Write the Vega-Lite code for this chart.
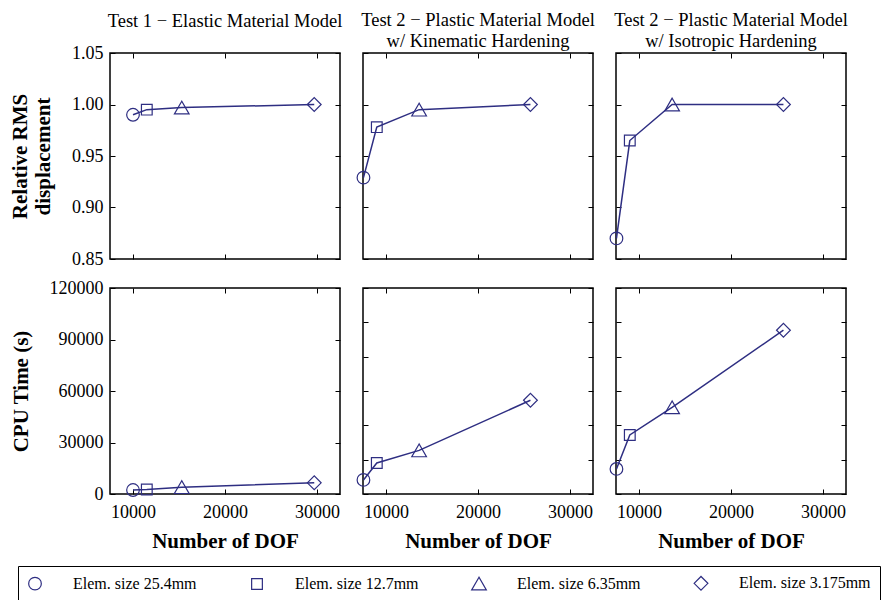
{
  "$schema": "https://vega.github.io/schema/vega-lite/v6.json",
  "background": "white",
  "padding": {"left": 8, "top": 10, "right": 5, "bottom": 5},
  "datasets": {
    "pts": [
      {"test": "t1", "metric": "rms", "dof": 10000, "value": 0.990, "size": "Elem. size 25.4mm"},
      {"test": "t1", "metric": "rms", "dof": 11500, "value": 0.995, "size": "Elem. size 12.7mm"},
      {"test": "t1", "metric": "rms", "dof": 15300, "value": 0.997, "size": "Elem. size 6.35mm"},
      {"test": "t1", "metric": "rms", "dof": 29700, "value": 1.000, "size": "Elem. size 3.175mm"},
      {"test": "t2k", "metric": "rms", "dof": 7550, "value": 0.929, "size": "Elem. size 25.4mm"},
      {"test": "t2k", "metric": "rms", "dof": 9000, "value": 0.978, "size": "Elem. size 12.7mm"},
      {"test": "t2k", "metric": "rms", "dof": 13600, "value": 0.995, "size": "Elem. size 6.35mm"},
      {"test": "t2k", "metric": "rms", "dof": 25700, "value": 1.000, "size": "Elem. size 3.175mm"},
      {"test": "t2i", "metric": "rms", "dof": 7550, "value": 0.870, "size": "Elem. size 25.4mm"},
      {"test": "t2i", "metric": "rms", "dof": 9000, "value": 0.965, "size": "Elem. size 12.7mm"},
      {"test": "t2i", "metric": "rms", "dof": 13600, "value": 1.000, "size": "Elem. size 6.35mm"},
      {"test": "t2i", "metric": "rms", "dof": 25700, "value": 1.000, "size": "Elem. size 3.175mm"},
      {"test": "t1", "metric": "cpu", "dof": 10000, "value": 2300, "size": "Elem. size 25.4mm"},
      {"test": "t1", "metric": "cpu", "dof": 11500, "value": 2600, "size": "Elem. size 12.7mm"},
      {"test": "t1", "metric": "cpu", "dof": 15300, "value": 4000, "size": "Elem. size 6.35mm"},
      {"test": "t1", "metric": "cpu", "dof": 29700, "value": 6500, "size": "Elem. size 3.175mm"},
      {"test": "t2k", "metric": "cpu", "dof": 7550, "value": 8200, "size": "Elem. size 25.4mm"},
      {"test": "t2k", "metric": "cpu", "dof": 9000, "value": 18100, "size": "Elem. size 12.7mm"},
      {"test": "t2k", "metric": "cpu", "dof": 13600, "value": 25400, "size": "Elem. size 6.35mm"},
      {"test": "t2k", "metric": "cpu", "dof": 25700, "value": 54600, "size": "Elem. size 3.175mm"},
      {"test": "t2i", "metric": "cpu", "dof": 7550, "value": 14600, "size": "Elem. size 25.4mm"},
      {"test": "t2i", "metric": "cpu", "dof": 9000, "value": 34400, "size": "Elem. size 12.7mm"},
      {"test": "t2i", "metric": "cpu", "dof": 13600, "value": 50500, "size": "Elem. size 6.35mm"},
      {"test": "t2i", "metric": "cpu", "dof": 25700, "value": 95400, "size": "Elem. size 3.175mm"}
    ]
  },
  "data": {"name": "pts"},
  "columns": 3,
  "spacing": {"row": 29, "column": 23},
  "bounds": "flush",
  "concat": [
    {
      "width": 230, "height": 206,
      "title": {"text": "Test 1 − Elastic Material Model", "offset": 14},
      "transform": [{"filter": "datum.test === 't1' && datum.metric === 'rms'"}],
      "layer": [
        {"mark": {"type": "line", "color": "#2E2E82", "strokeWidth": 1.5},
         "encoding": {
           "x": {"field": "dof", "type": "quantitative", "scale": {"domain": [7500, 32500], "nice": false}, "axis": {"values": [10000, 20000, 30000], "labels": false, "title": null}},
           "y": {"field": "value", "type": "quantitative", "scale": {"domain": [0.85, 1.05], "nice": false, "zero": false}, "axis": {"values": [0.85, 0.9, 0.95, 1.0, 1.05], "format": ".2f", "title": ["Relative RMS", "displacement"]}}
         }},
        {"mark": {"type": "point", "filled": false, "color": "#2E2E82", "strokeWidth": 1.2, "opacity": 1},
         "encoding": {
           "x": {"field": "dof", "type": "quantitative", "scale": {"domain": [7500, 32500], "nice": false}, "axis": {"orient": "top", "values": [10000, 20000, 30000], "labels": false, "title": null}},
           "y": {"field": "value", "type": "quantitative", "scale": {"domain": [0.85, 1.05], "nice": false, "zero": false}, "axis": {"orient": "right", "values": [0.85, 0.9, 0.95, 1.0, 1.05], "labels": false, "title": null}},
           "shape": {"field": "size", "type": "nominal", "scale": {"domain": ["Elem. size 25.4mm", "Elem. size 12.7mm", "Elem. size 6.35mm", "Elem. size 3.175mm"], "range": ["circle", "square", "triangle-up", "diamond"]}, "legend": {"title": null}},
           "size": {"field": "size", "type": "nominal", "scale": {"type": "ordinal", "domain": ["Elem. size 25.4mm", "Elem. size 12.7mm", "Elem. size 6.35mm", "Elem. size 3.175mm"], "range": [160, 115, 215, 190]}, "legend": {"title": null}}
         }}
      ],
      "resolve": {"axis": {"x": "independent", "y": "independent"}}
    },
    {
      "width": 230, "height": 206,
      "title": {"text": ["Test 2 − Plastic Material Model", "w/ Kinematic Hardening"], "offset": 2},
      "transform": [{"filter": "datum.test === 't2k' && datum.metric === 'rms'"}],
      "layer": [
        {"mark": {"type": "line", "color": "#2E2E82", "strokeWidth": 1.5},
         "encoding": {
           "x": {"field": "dof", "type": "quantitative", "scale": {"domain": [7500, 32500], "nice": false}, "axis": {"values": [10000, 20000, 30000], "labels": false, "title": null}},
           "y": {"field": "value", "type": "quantitative", "scale": {"domain": [0.85, 1.05], "nice": false, "zero": false}, "axis": {"values": [0.85, 0.9, 0.95, 1.0, 1.05], "labels": false, "title": null}}
         }},
        {"mark": {"type": "point", "filled": false, "color": "#2E2E82", "strokeWidth": 1.2, "opacity": 1},
         "encoding": {
           "x": {"field": "dof", "type": "quantitative", "scale": {"domain": [7500, 32500], "nice": false}, "axis": {"orient": "top", "values": [10000, 20000, 30000], "labels": false, "title": null}},
           "y": {"field": "value", "type": "quantitative", "scale": {"domain": [0.85, 1.05], "nice": false, "zero": false}, "axis": {"orient": "right", "values": [0.85, 0.9, 0.95, 1.0, 1.05], "labels": false, "title": null}},
           "shape": {"field": "size", "type": "nominal", "scale": {"domain": ["Elem. size 25.4mm", "Elem. size 12.7mm", "Elem. size 6.35mm", "Elem. size 3.175mm"], "range": ["circle", "square", "triangle-up", "diamond"]}, "legend": {"title": null}},
           "size": {"field": "size", "type": "nominal", "scale": {"type": "ordinal", "domain": ["Elem. size 25.4mm", "Elem. size 12.7mm", "Elem. size 6.35mm", "Elem. size 3.175mm"], "range": [160, 115, 215, 190]}, "legend": {"title": null}}
         }}
      ],
      "resolve": {"axis": {"x": "independent", "y": "independent"}}
    },
    {
      "width": 230, "height": 206,
      "title": {"text": ["Test 2 − Plastic Material Model", "w/ Isotropic Hardening"], "offset": 2},
      "transform": [{"filter": "datum.test === 't2i' && datum.metric === 'rms'"}],
      "layer": [
        {"mark": {"type": "line", "color": "#2E2E82", "strokeWidth": 1.5},
         "encoding": {
           "x": {"field": "dof", "type": "quantitative", "scale": {"domain": [7500, 32500], "nice": false}, "axis": {"values": [10000, 20000, 30000], "labels": false, "title": null}},
           "y": {"field": "value", "type": "quantitative", "scale": {"domain": [0.85, 1.05], "nice": false, "zero": false}, "axis": {"values": [0.85, 0.9, 0.95, 1.0, 1.05], "labels": false, "title": null}}
         }},
        {"mark": {"type": "point", "filled": false, "color": "#2E2E82", "strokeWidth": 1.2, "opacity": 1},
         "encoding": {
           "x": {"field": "dof", "type": "quantitative", "scale": {"domain": [7500, 32500], "nice": false}, "axis": {"orient": "top", "values": [10000, 20000, 30000], "labels": false, "title": null}},
           "y": {"field": "value", "type": "quantitative", "scale": {"domain": [0.85, 1.05], "nice": false, "zero": false}, "axis": {"orient": "right", "values": [0.85, 0.9, 0.95, 1.0, 1.05], "labels": false, "title": null}},
           "shape": {"field": "size", "type": "nominal", "scale": {"domain": ["Elem. size 25.4mm", "Elem. size 12.7mm", "Elem. size 6.35mm", "Elem. size 3.175mm"], "range": ["circle", "square", "triangle-up", "diamond"]}, "legend": {"title": null}},
           "size": {"field": "size", "type": "nominal", "scale": {"type": "ordinal", "domain": ["Elem. size 25.4mm", "Elem. size 12.7mm", "Elem. size 6.35mm", "Elem. size 3.175mm"], "range": [160, 115, 215, 190]}, "legend": {"title": null}}
         }}
      ],
      "resolve": {"axis": {"x": "independent", "y": "independent"}}
    },
    {
      "width": 230, "height": 206,
      "transform": [{"filter": "datum.test === 't1' && datum.metric === 'cpu'"}],
      "layer": [
        {"mark": {"type": "line", "color": "#2E2E82", "strokeWidth": 1.5},
         "encoding": {
           "x": {"field": "dof", "type": "quantitative", "scale": {"domain": [7500, 32500], "nice": false}, "axis": {"values": [10000, 20000, 30000], "format": "d", "title": "Number of DOF"}},
           "y": {"field": "value", "type": "quantitative", "scale": {"domain": [0, 120000], "nice": false}, "axis": {"values": [0, 30000, 60000, 90000, 120000], "format": "d", "title": "CPU Time (s)"}}
         }},
        {"mark": {"type": "point", "filled": false, "color": "#2E2E82", "strokeWidth": 1.2, "opacity": 1},
         "encoding": {
           "x": {"field": "dof", "type": "quantitative", "scale": {"domain": [7500, 32500], "nice": false}, "axis": {"orient": "top", "values": [10000, 20000, 30000], "labels": false, "title": null}},
           "y": {"field": "value", "type": "quantitative", "scale": {"domain": [0, 120000], "nice": false}, "axis": {"orient": "right", "values": [0, 30000, 60000, 90000, 120000], "labels": false, "title": null}},
           "shape": {"field": "size", "type": "nominal", "scale": {"domain": ["Elem. size 25.4mm", "Elem. size 12.7mm", "Elem. size 6.35mm", "Elem. size 3.175mm"], "range": ["circle", "square", "triangle-up", "diamond"]}, "legend": {"title": null}},
           "size": {"field": "size", "type": "nominal", "scale": {"type": "ordinal", "domain": ["Elem. size 25.4mm", "Elem. size 12.7mm", "Elem. size 6.35mm", "Elem. size 3.175mm"], "range": [160, 115, 215, 190]}, "legend": {"title": null}}
         }}
      ],
      "resolve": {"axis": {"x": "independent", "y": "independent"}}
    },
    {
      "width": 230, "height": 206,
      "transform": [{"filter": "datum.test === 't2k' && datum.metric === 'cpu'"}],
      "layer": [
        {"mark": {"type": "line", "color": "#2E2E82", "strokeWidth": 1.5},
         "encoding": {
           "x": {"field": "dof", "type": "quantitative", "scale": {"domain": [7500, 32500], "nice": false}, "axis": {"values": [10000, 20000, 30000], "format": "d", "title": "Number of DOF"}},
           "y": {"field": "value", "type": "quantitative", "scale": {"domain": [0, 120000], "nice": false}, "axis": {"values": [0, 20000, 40000, 60000, 80000, 100000, 120000], "labels": false, "title": null}}
         }},
        {"mark": {"type": "point", "filled": false, "color": "#2E2E82", "strokeWidth": 1.2, "opacity": 1},
         "encoding": {
           "x": {"field": "dof", "type": "quantitative", "scale": {"domain": [7500, 32500], "nice": false}, "axis": {"orient": "top", "values": [10000, 20000, 30000], "labels": false, "title": null}},
           "y": {"field": "value", "type": "quantitative", "scale": {"domain": [0, 120000], "nice": false}, "axis": {"orient": "right", "values": [0, 20000, 40000, 60000, 80000, 100000, 120000], "labels": false, "title": null}},
           "shape": {"field": "size", "type": "nominal", "scale": {"domain": ["Elem. size 25.4mm", "Elem. size 12.7mm", "Elem. size 6.35mm", "Elem. size 3.175mm"], "range": ["circle", "square", "triangle-up", "diamond"]}, "legend": {"title": null}},
           "size": {"field": "size", "type": "nominal", "scale": {"type": "ordinal", "domain": ["Elem. size 25.4mm", "Elem. size 12.7mm", "Elem. size 6.35mm", "Elem. size 3.175mm"], "range": [160, 115, 215, 190]}, "legend": {"title": null}}
         }}
      ],
      "resolve": {"axis": {"x": "independent", "y": "independent"}}
    },
    {
      "width": 230, "height": 206,
      "transform": [{"filter": "datum.test === 't2i' && datum.metric === 'cpu'"}],
      "layer": [
        {"mark": {"type": "line", "color": "#2E2E82", "strokeWidth": 1.5},
         "encoding": {
           "x": {"field": "dof", "type": "quantitative", "scale": {"domain": [7500, 32500], "nice": false}, "axis": {"values": [10000, 20000, 30000], "format": "d", "title": "Number of DOF"}},
           "y": {"field": "value", "type": "quantitative", "scale": {"domain": [0, 120000], "nice": false}, "axis": {"values": [0, 20000, 40000, 60000, 80000, 100000, 120000], "labels": false, "title": null}}
         }},
        {"mark": {"type": "point", "filled": false, "color": "#2E2E82", "strokeWidth": 1.2, "opacity": 1},
         "encoding": {
           "x": {"field": "dof", "type": "quantitative", "scale": {"domain": [7500, 32500], "nice": false}, "axis": {"orient": "top", "values": [10000, 20000, 30000], "labels": false, "title": null}},
           "y": {"field": "value", "type": "quantitative", "scale": {"domain": [0, 120000], "nice": false}, "axis": {"orient": "right", "values": [0, 20000, 40000, 60000, 80000, 100000, 120000], "labels": false, "title": null}},
           "shape": {"field": "size", "type": "nominal", "scale": {"domain": ["Elem. size 25.4mm", "Elem. size 12.7mm", "Elem. size 6.35mm", "Elem. size 3.175mm"], "range": ["circle", "square", "triangle-up", "diamond"]}, "legend": {"title": null}},
           "size": {"field": "size", "type": "nominal", "scale": {"type": "ordinal", "domain": ["Elem. size 25.4mm", "Elem. size 12.7mm", "Elem. size 6.35mm", "Elem. size 3.175mm"], "range": [160, 115, 215, 190]}, "legend": {"title": null}}
         }}
      ],
      "resolve": {"axis": {"x": "independent", "y": "independent"}}
    }
  ],
  "config": {
    "font": "Liberation Serif",
    "view": {"stroke": "black", "strokeWidth": 1.5},
    "title": {"font": "Liberation Serif", "fontSize": 18.5, "fontWeight": "normal", "color": "black", "lineHeight": 21},
    "axis": {
      "domain": false, "grid": false,
      "tickSize": -5, "tickColor": "black", "tickWidth": 1,
      "labelFont": "Liberation Serif", "labelFontSize": 18, "labelColor": "black", "labelPadding": 12,
      "titleFont": "Liberation Serif", "titleFontSize": 21, "titleFontWeight": "bold", "titleColor": "black", "titlePadding": 11, "titleLineHeight": 23
    },
    "axisX": {"labelPadding": 14, "titlePadding": 9},
    "axisY": {"titlePadding": 18},
    "legend": {
      "orient": "none", "legendX": -92, "legendY": 513, "direction": "horizontal", "columns": 4, "gridAlign": "all",
      "strokeColor": "black", "padding": 9,
      "labelFont": "Liberation Serif", "labelFontSize": 16, "labelColor": "black", "labelOffset": 30,
      "columnPadding": 42, "symbolStrokeWidth": 1.2,
      "symbolStrokeColor": "#2E2E82", "symbolFillColor": "transparent", "symbolFillOpacity": 0
    }
  }
}
